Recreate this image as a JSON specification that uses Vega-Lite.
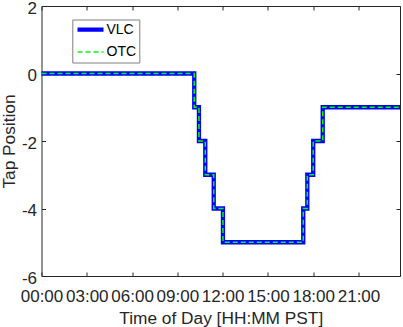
{
  "$schema": "https://vega.github.io/schema/vega-lite/v6.json",
  "width": 358.5,
  "height": 270,
  "autosize": {"type": "none"},
  "padding": {"left": 41.5, "top": 6, "right": 3, "bottom": 51},
  "background": "white",
  "config": {
    "font": "Liberation Sans",
    "view": {"stroke": "#262626", "strokeWidth": 1},
    "axis": {
      "grid": false,
      "domain": false,
      "tickColor": "#262626",
      "tickSize": -4,
      "tickWidth": 1,
      "labelColor": "#262626",
      "titleColor": "#262626",
      "labelFont": "Liberation Sans",
      "titleFont": "Liberation Sans",
      "labelFontSize": 17,
      "titleFontSize": 17.3,
      "titleFontWeight": "normal"
    }
  },
  "data": {
    "values": [
      {"series": "VLC", "t": 0, "tap": 0},
      {"series": "VLC", "t": 10.12, "tap": -1},
      {"series": "VLC", "t": 10.43, "tap": -2},
      {"series": "VLC", "t": 10.85, "tap": -3},
      {"series": "VLC", "t": 11.41, "tap": -4},
      {"series": "VLC", "t": 12.02, "tap": -5},
      {"series": "VLC", "t": 17.34, "tap": -4},
      {"series": "VLC", "t": 17.61, "tap": -3},
      {"series": "VLC", "t": 18.0, "tap": -2},
      {"series": "VLC", "t": 18.63, "tap": -1},
      {"series": "VLC", "t": 23.75, "tap": -1},
      {"series": "OTC", "t": 0, "tap": 0},
      {"series": "OTC", "t": 10.12, "tap": -1},
      {"series": "OTC", "t": 10.43, "tap": -2},
      {"series": "OTC", "t": 10.85, "tap": -3},
      {"series": "OTC", "t": 11.41, "tap": -4},
      {"series": "OTC", "t": 12.02, "tap": -5},
      {"series": "OTC", "t": 17.34, "tap": -4},
      {"series": "OTC", "t": 17.61, "tap": -3},
      {"series": "OTC", "t": 18.0, "tap": -2},
      {"series": "OTC", "t": 18.63, "tap": -1},
      {"series": "OTC", "t": 23.75, "tap": -1}
    ]
  },
  "layer": [
    {
      "mark": {"type": "line", "interpolate": "step-after"},
      "encoding": {
        "x": {
          "field": "t",
          "type": "quantitative",
          "scale": {"domain": [0, 23.75], "nice": false, "zero": false},
          "axis": {
            "orient": "bottom",
            "values": [0, 3, 6, 9, 12, 15, 18, 21],
            "labelExpr": "(datum.value < 10 ? '0' : '') + datum.value + ':00'",
            "labelBaseline": "alphabetic",
            "labelPadding": 29,
            "labelFlush": false,
            "labelOverlap": false,
            "title": "Time of Day [HH:MM PST]",
            "titleBaseline": "alphabetic",
            "titleY": 47.5
          }
        },
        "y": {
          "field": "tap",
          "type": "quantitative",
          "scale": {"domain": [-6, 2], "nice": false, "zero": false},
          "axis": {
            "orient": "left",
            "values": [-6, -4, -2, 0, 2],
            "labelExpr": "'' + datum.value",
            "labelPadding": 9,
            "labelOffset": 2,
            "labelFlush": false,
            "labelOverlap": false,
            "title": "Tap Position",
            "titleX": -32,
            "titleBaseline": "middle"
          }
        },
        "color": {
          "field": "series",
          "type": "nominal",
          "scale": {"domain": ["VLC", "OTC"], "range": ["#0000ff", "#00ff00"]},
          "legend": {
            "title": null,
            "orient": "none",
            "legendX": 30.8,
            "legendY": 13.5,
            "symbolType": "M-1,0H4.2",
            "symbolSize": 100,
            "labelFont": "Liberation Sans",
            "labelFontSize": 14,
            "labelColor": "#000000",
            "labelOffset": 16.5,
            "rowPadding": 5.7,
            "padding": 2.7,
            "strokeColor": "#7f7f7f",
            "fillColor": "white"
          }
        },
        "strokeWidth": {
          "field": "series",
          "type": "nominal",
          "scale": {"domain": ["VLC", "OTC"], "range": [4.3, 1.5]}
        },
        "strokeDash": {
          "field": "series",
          "type": "nominal",
          "scale": {"domain": ["VLC", "OTC"], "range": [[1, 0], [5, 3]]}
        }
      }
    },
    {
      "mark": {"type": "line", "interpolate": "step-after", "strokeOpacity": 0},
      "encoding": {
        "x": {
          "field": "t",
          "type": "quantitative",
          "axis": {"orient": "top", "values": [0, 3, 6, 9, 12, 15, 18, 21], "labels": false, "title": null}
        },
        "y": {
          "field": "tap",
          "type": "quantitative",
          "axis": {"orient": "right", "values": [-6, -4, -2, 0, 2], "labels": false, "title": null}
        },
        "detail": {"field": "series", "type": "nominal"}
      }
    }
  ],
  "resolve": {"axis": {"x": "independent", "y": "independent"}}
}
